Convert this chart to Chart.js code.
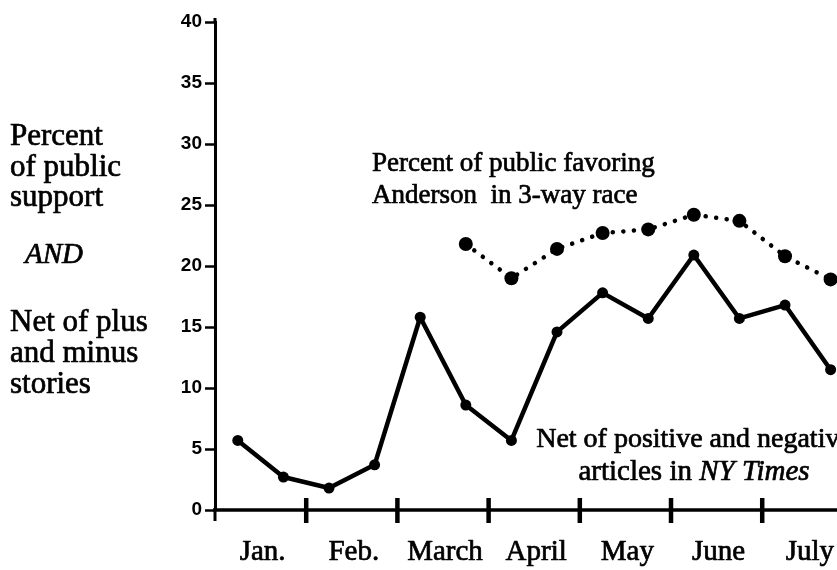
<!DOCTYPE html>
<html><head><meta charset="utf-8">
<script src="https://cdn.jsdelivr.net/npm/chart.js@4/dist/chart.umd.min.js"></script>
<style>html,body{margin:0;padding:0;background:#fff;}canvas{display:block;}</style>
</head><body>
<canvas id="c" width="837" height="570"></canvas>
<script>
// ---- data ----
const months = ["Jan.", "Feb.", "March", "April", "May", "June", "July"];
const halfMonthPos = [0.25, 0.75, 1.25, 1.75, 2.25, 2.75, 3.25, 3.75, 4.25, 4.75, 5.25, 5.75, 6.25, 6.75];
const netStories = [5.7, 2.7, 1.8, 3.7, 15.8, 8.6, 5.7, 14.6, 17.8, 15.7, 20.9, 15.7, 16.8, 11.5];
const andersonPos = [2.75, 3.25, 3.75, 4.25, 4.75, 5.25, 5.75, 6.25, 6.75];
const andersonSupport = [21.8, 19.0, 21.4, 22.7, 23.0, 24.2, 23.7, 20.8, 18.9];
const yTickValues = [0, 5, 10, 15, 20, 25, 30, 35, 40];
const leftLabelLines = ["Percent", "of public", "support", "AND", "Net of plus", "and minus", "stories"];
const andersonNote = ["Percent of public favoring", "Anderson  in 3-way race"];
const netNoteLine1 = "Net of positive and negative";
const netNoteLine2 = ["articles in ", "NY Times"];

const SERIF = '"Liberation Serif", "Times New Roman", serif';

function heavyText(ctx, t, x, y) {
  ctx.fillText(t, x, y);
  ctx.strokeText(t, x, y);
}

const annot = {
  id: 'annot',
  afterDraw(chart) {
    const { ctx, chartArea: a, scales: { x, y } } = chart;
    const y0 = y.getPixelForValue(0);
    ctx.save();
    ctx.strokeStyle = '#000';
    ctx.fillStyle = '#000';
    // x axis line
    ctx.lineWidth = 3.5;
    ctx.beginPath(); ctx.moveTo(a.left - 2, y0); ctx.lineTo(a.right, y0); ctx.stroke();
    // y axis extensions
    ctx.lineWidth = 3;
    ctx.beginPath(); ctx.moveTo(a.left, y0); ctx.lineTo(a.left, y0 + 11); ctx.stroke();
    ctx.beginPath(); ctx.moveTo(a.left, a.top); ctx.lineTo(a.left, a.top - 4); ctx.stroke();
    // month separator ticks
    ctx.lineWidth = 4.5;
    for (let i = 1; i < months.length; i++) {
      const px = x.getPixelForValue(i);
      ctx.beginPath(); ctx.moveTo(px, y0 - 12); ctx.lineTo(px, y0 + 13); ctx.stroke();
    }
    ctx.lineWidth = 0.7;
    ctx.lineJoin = 'round';
    // month labels
    ctx.font = '29px ' + SERIF;
    ctx.textAlign = 'center';
    ctx.textBaseline = 'alphabetic';
    months.forEach((m, i) => heavyText(ctx, m, x.getPixelForValue(i + 0.5) + 2, 560));

    // left labels
    ctx.textAlign = 'left';
    const leftY = [145, 176, 206, 263, 331, 362, 393];
    leftLabelLines.forEach((t, i) => {
      if (t === 'AND') { ctx.font = 'italic 29px ' + SERIF; heavyText(ctx, t, 25, leftY[i]); }
      else { ctx.font = '31px ' + SERIF; heavyText(ctx, t, 10, leftY[i]); }
    });

    // Anderson note
    ctx.font = '27px ' + SERIF;
    heavyText(ctx, andersonNote[0], 372, 171);
    heavyText(ctx, andersonNote[1], 372, 203);

    // Net note
    const cx = 694;
    ctx.font = '28px ' + SERIF;
    ctx.textAlign = 'center';
    heavyText(ctx, netNoteLine1, cx, 447);
    ctx.textAlign = 'left';
    ctx.font = '29px ' + SERIF;
    const w1 = ctx.measureText(netNoteLine2[0]).width;
    ctx.font = 'italic 29px ' + SERIF;
    const w2 = ctx.measureText(netNoteLine2[1]).width;
    const sx = cx - (w1 + w2) / 2;
    ctx.font = '29px ' + SERIF;
    heavyText(ctx, netNoteLine2[0], sx, 480);
    ctx.font = 'italic 29px ' + SERIF;
    heavyText(ctx, netNoteLine2[1], sx + w1, 480);
    ctx.restore();
  }
};

new Chart(document.getElementById('c'), {
  type: 'line',
  data: {
    datasets: [
      {
        label: 'Net of positive and negative articles in NY Times',
        data: halfMonthPos.map((p, i) => ({ x: p, y: netStories[i] })),
        borderColor: '#000', backgroundColor: '#000',
        borderWidth: 4.5, pointRadius: 5.5, pointBorderWidth: 0,
        pointBackgroundColor: '#000', tension: 0, borderJoinStyle: 'round'
      },
      {
        label: 'Percent of public favoring Anderson in 3-way race',
        data: andersonPos.map((p, i) => ({ x: p, y: andersonSupport[i] })),
        borderColor: '#000', backgroundColor: '#000',
        borderWidth: 4.5, borderDash: [0.1, 10.5], borderCapStyle: 'round',
        pointRadius: 7, pointBorderWidth: 0, pointBackgroundColor: '#000', tension: 0
      }
    ]
  },
  options: {
    responsive: false,
    animation: false,
    devicePixelRatio: 1,
    layout: { autoPadding: false, padding: { top: 22, bottom: 60, left: 0, right: 0 } },
    plugins: { legend: { display: false }, tooltip: { enabled: false } },
    scales: {
      x: { type: 'linear', min: 0, max: 6.82, display: false },
      y: {
        min: 0, max: 40,
        afterBuildTicks: (ax) => { ax.ticks = yTickValues.map(v => ({ value: v })); },
        afterFit: (ax) => { ax.width = 215; },
        ticks: { color: '#000', font: { family: '"Liberation Sans", Arial, sans-serif', size: 19, weight: 'bold' }, padding: 3 },
        grid: { drawOnChartArea: false, tickLength: 10, tickWidth: 2.5, tickColor: '#000' },
        border: { display: true, color: '#000', width: 3 }
      }
    }
  },
  plugins: [annot]
});
</script>
</body></html>
